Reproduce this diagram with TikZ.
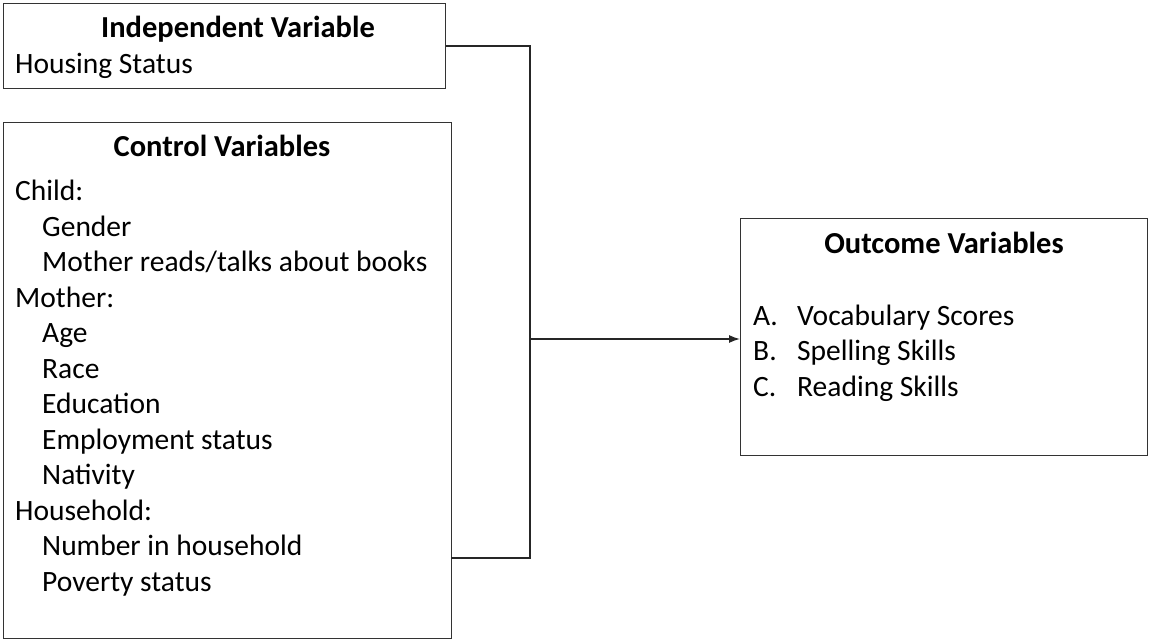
\documentclass[tikz,border=0pt]{standalone}
\usepackage{fontspec}
\setmainfont{Carlito}
\usetikzlibrary{arrows.meta}
\begin{document}
\begin{tikzpicture}
            [
                x = 1pt, y = -1pt,
                box/.style     = {draw=black!80, line width=1.3pt, inner sep=0pt,
                                  anchor=north west},
                entry/.style   = {inner sep=0pt, anchor=base west,
                                  font=\fontsize{29.5}{35}\selectfont},
                heading/.style = {entry, anchor=base,
                                  font=\fontsize{30.5}{36}\selectfont\bfseries},
                link/.style    = {draw=black!85, line width=1.4pt}
            ]
            \useasboundingbox (0,0) rectangle (1149,643);
            % boxes
            \node[box, minimum width=442pt, minimum height=85pt]  (indep)   at (3,3)     {};
            \node[box, minimum width=448pt, minimum height=516pt] (control) at (3,122)   {};
            \node[box, minimum width=407pt, minimum height=237pt] (outcome) at (740,218) {};
            % independent variable
            \node[heading] (indep-title) at (238,37) {Independent Variable};
            \node[entry]   (indep-item)  at (15,73)  {Housing Status};
            % control variables
            \node[heading] (control-title) at (222,156) {Control Variables};
            \foreach \txt/\ind [count=\i] in {Child:/0, Gender/1,
                    {Mother reads/talks about books}/1, Mother:/0, Age/1, Race/1,
                    Education/1, {Employment status}/1, Nativity/1, Household:/0,
                    {Number in household}/1, {Poverty status}/1}
                \node[entry] (control-\i) at ({15+27*\ind},{165+35.5*\i}) {\txt};
            % outcome variables
            \node[heading] (outcome-title) at (944,253) {Outcome Variables};
            \foreach \lbl/\txt [count=\i] in {A./{Vocabulary Scores},
                    B./{Spelling Skills}, C./{Reading Skills}}
            {
                \node[entry] (outcome-lbl-\i) at (753,{289.5+35.5*\i}) {\lbl};
                \node[entry] (outcome-\i)     at (797,{289.5+35.5*\i}) {\txt};
            }
            % connectors
            \coordinate (join)    at (530,339);
            \coordinate (ctrlout) at (451,558);
            \draw[link] (indep.east) -| (join);
            \draw[link] (ctrlout) -| (join);
            \draw[link, -{Latex[length=11pt, width=8pt]}] (join) -- (join -| outcome.west);
        \end{tikzpicture}
\end{document}
